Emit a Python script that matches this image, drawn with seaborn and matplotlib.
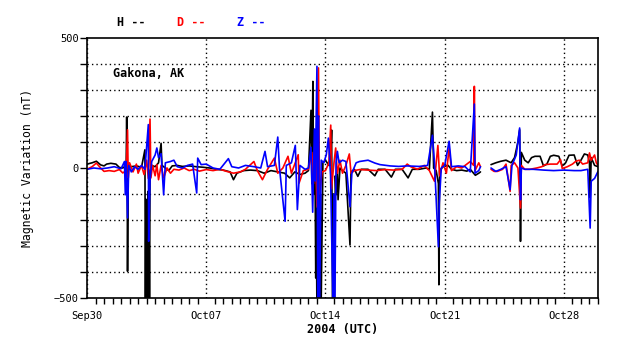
import numpy as np
import pandas as pd
import matplotlib
matplotlib.use("Agg")
import matplotlib.pyplot as plt
from matplotlib.ticker import MultipleLocator, FixedLocator
import seaborn as sns

# ---- data (days since 2004-09-30 00 UTC, nT) ----
h_days = [0.0, 0.3, 0.55, 0.8, 1.0, 1.15, 1.4, 1.7, 1.9, 2.1, 2.3, 2.33, 2.36, 2.38, 2.42, 2.6, 2.9, 3.2,
          3.4, 3.43, 3.46, 3.49, 3.52, 3.55, 3.58, 3.61, 3.64, 3.67, 3.7, 3.8, 4.0, 4.2, 4.35, 4.4, 4.6,
          4.8, 5.0, 5.3, 5.6, 6.0, 6.4,
          6.8, 7.2, 7.6, 8.0, 8.4, 8.6, 8.8, 9.2, 9.6, 10.0, 10.4, 10.8, 11.2, 11.6, 11.9, 12.2, 12.5, 12.8,
          13.0, 13.15, 13.2, 13.26, 13.3, 13.38, 13.43, 13.46, 13.5, 13.54, 13.58, 13.62, 13.66, 13.7,
          13.74, 13.85, 14.0,
          14.2, 14.3, 14.36, 14.42, 14.47, 14.52, 14.58, 14.62, 14.7, 14.74, 14.85, 15.0, 15.2, 15.44,
          15.5, 15.7, 15.9, 16.1, 16.5, 16.9, 17.1, 17.5, 17.87, 18.1, 18.5, 18.85, 19.1, 19.5, 19.9,
          20.1, 20.28, 20.35, 20.5, 20.63, 20.66, 20.7, 20.9, 21.2, 21.4, 21.7, 22.0, 22.3, 22.5, 22.8,
          23.0, 23.1,
          23.72, 24.0, 24.3, 24.6, 24.9, 25.1, 25.3, 25.4, 25.45, 25.5, 25.7, 25.9, 26.1, 26.3, 26.6,
          26.8, 27.0, 27.2, 27.4, 27.7, 27.9, 28.1, 28.3, 28.6, 28.8, 29.0, 29.2, 29.4, 29.5, 29.54,
          29.6, 29.8, 30.0]
h_vals = [15, 20, 26, 12, 8, 15, 18, 15, 2, 0, 10, 196, -20, -397, 5, 5, 8, 3,
          70, -560, -120, -560, -200, -560, -90, -560, -150, -560, -10, 10, 5, 20, 95, 10, 0,
          -10, 8, 10, 6, 8, 5,
          3, 0, -5, -8, -15, -45, -20, -10, -8, -10, -20, -10, -15, -20, -38, -15, -25, -20,
          -10, 222, -60, 333, -100, 60, -423, -150, -560, -80, -560, -200, -560, -100,
          -560, 20, 30,
          10, 10, 146, -560, -100, -560, -30, -103, -10, -122, 0, -10, -20, -296,
          -15, -5, -32, -5, -5, -30, -5, -5, -35, -5, -5, -38, -5, -5, 0,
          -5, 215, 0, -10, -60, -449, -10, 5, 10, -5, -10, -8, -12, -5, -28,
          -20, -15,
          13, 20, 26, 30, 20, 40, 100, 147, -282, 60, 30, 20, 40, 45, 45,
          8, 15, 45, 49, 45, 8, 20, 49, 50, 10, 30, 54, 50, 20, -115,
          40, 10, 5]

d_days = [0.0, 0.3, 0.55, 0.8, 1.0, 1.3, 1.6, 1.9, 2.1, 2.3, 2.38, 2.42, 2.5, 2.7, 2.9, 3.0, 3.2, 3.35,
          3.5, 3.6, 3.7, 3.75, 3.85, 4.0, 4.1, 4.2, 4.35, 4.5, 4.7, 4.9, 5.1, 5.4, 5.7, 6.0, 6.3, 6.6,
          7.0, 7.4, 7.8, 8.2, 8.6, 9.0, 9.3, 9.8, 10.0, 10.3, 10.6, 11.0, 11.2, 11.5, 11.8, 12.0, 12.4,
          12.45, 12.7, 13.0, 13.2, 13.3, 13.4, 13.5, 13.59, 13.65, 13.8, 14.0, 14.2, 14.31, 14.35, 14.5,
          14.6, 14.7, 14.85, 15.0, 15.2, 15.4, 15.5, 15.7, 16.0, 16.5, 17.0, 17.5, 18.0, 18.5, 18.8,
          19.0, 19.4, 19.8, 20.1, 20.4, 20.6, 20.7, 20.9, 21.1, 21.26, 21.4, 21.7, 22.0, 22.3, 22.5,
          22.7, 22.74, 22.78, 23.0, 23.1,
          23.72, 23.9, 24.1, 24.4, 24.6, 24.84, 24.9, 25.1, 25.3, 25.45, 25.5, 25.7, 26.0, 26.4, 26.7,
          26.9, 27.2, 27.6, 27.8, 27.9, 28.2, 28.5, 28.7, 28.9, 29.1, 29.4, 29.5, 29.6, 29.8, 29.9, 30.0]
d_vals = [-5, 5, 19, 0, -13, -10, -13, -6, -19, -10, 147, -38, 20, -15, 15, -20, 10, -25,
          30, -40, 188, -38, 10, -30, 13, -45, 10, -38, 0, -20, -5, -8, 0, -10, -5, -12,
          -6, -10, -5, -13, -20, -15, -5, 25, -10, -45, -5, 38, -20, 0, 45, -20, 51,
          -58, -10, -5, 60, -60, 120, -150, 385, -100, -15, -10, 20, 165, -80, 20,
          77, -20, 30, -20, 10, 54, -20, -10, -6, -8, -10, -6, -8, -5, 15,
          5, -5, 10, -10, -51, 87, -30, 20, -20, 77, -10, 5, 0, 15, 25,
          10, 314, -10, 20, 5,
          -5, -13, -13, -5, 15, -90, 10, 20, 0, -154, 10, -5, -5, 0, 5,
          13, 15, 15, 32, -2, 5, 15, 26, 30, 15, 20, 58, 30, 50, 20, 10]

z_days = [0.0, 0.4, 0.8, 1.2, 1.6, 2.0, 2.2, 2.25, 2.3, 2.38, 2.45, 2.6, 2.8, 3.0, 3.2, 3.4, 3.6, 3.62,
          3.7, 3.8, 4.0, 4.1, 4.2, 4.35, 4.5, 4.6, 4.9, 5.1, 5.3, 5.6, 5.9, 6.2, 6.44, 6.5, 6.7, 7.0,
          7.4, 7.8, 8.3, 8.5, 8.9, 9.3, 9.8, 10.2, 10.45, 10.6, 11.0, 11.2, 11.3, 11.63, 11.7, 12.0,
          12.23, 12.35, 12.5, 12.8, 13.0, 13.15, 13.25, 13.35, 13.4, 13.5, 13.55, 13.6, 13.65, 13.75,
          13.9, 14.05, 14.17, 14.3, 14.45, 14.5, 14.55, 14.62, 14.7, 14.8, 15.0, 15.2, 15.44, 15.55,
          15.8, 16.0, 16.5, 16.9, 17.2, 17.8, 18.3, 18.8, 19.5, 20.0, 20.28, 20.4, 20.63, 20.68, 20.8,
          21.0, 21.26, 21.4, 21.8, 22.2, 22.5, 22.74, 22.78, 23.0, 23.1,
          23.72, 24.0, 24.3, 24.6, 24.84, 24.95, 25.2, 25.4, 25.45, 25.5, 25.7, 26.2, 26.8, 27.4, 28.0,
          28.6, 29.0, 29.4, 29.54, 29.6, 29.8, 30.0]
z_vals = [-5, 0, -3, 0, 5, -3, 25, -103, 25, -192, 10, -15, 5, -5, 10, -5, 167, -282,
          -50, 25, 50, 77, 40, 55, -103, 20, 25, 30, 5, 0, 10, 15, -96, 38, 13, 15,
          0, -5, 36, 5, 0, 10, 5, 0, 64, 5, 10, 119, 0, -205, 10, 20,
          87, -160, 10, -5, 0, 80, -170, 150, -50, 391, -560, 200, -560, 30,
          20, 51, 115, -30, -560, -100, -560, 20, 64, 20, 30, 25, -149, -20,
          20, 25, 30, 19, 13, 8, 6, 8, 6, 10, 126, 20, -303, -135, 0,
          10, 103, 5, 8, 5, -15, 246, -20, -10, 5,
          0, -13, -5, 5, -83, 10, 50, 154, -122, 0, -5, -5, -8, -10, -8,
          -10, -10, -5, -231, -51, -40, -13]

week_labels = ["Sep30", "Oct07", "Oct14", "Oct21", "Oct28"]
data_gap_start = 23.4  # no data between Oct 23 and Oct 24


def frame(days, vals):
    df = pd.DataFrame({"day": days, "nT": vals})
    df["seg"] = (df["day"] > data_gap_start).astype(int)
    return df


sns.set_theme(style="white")
plt.rcParams["font.family"] = ["DejaVu Sans Mono", "DejaVu Sans"]

fig = plt.figure(figsize=(6.38, 3.59), dpi=100)
ax = fig.add_axes([87 / 638, 1 - 298 / 359, 511 / 638, 260 / 359])

for days, vals, col in [(h_days, h_vals, "black"), (d_days, d_vals, "#ff0000"), (z_days, z_vals, "#0000ff")]:
    sns.lineplot(data=frame(days, vals), x="day", y="nT", units="seg", estimator=None,
                 sort=False, color=col, lw=1.2, ax=ax, legend=False)

ax.set_xlim(0, 30)
ax.set_ylim(-500, 500)
ax.xaxis.set_major_locator(FixedLocator([0, 7, 14, 21, 28]))
ax.set_xticklabels(week_labels)
ax.xaxis.set_minor_locator(MultipleLocator(0.5))
ax.yaxis.set_major_locator(FixedLocator([-500, 0, 500]))
ax.yaxis.set_minor_locator(MultipleLocator(100))

dots = (0, (1, 2.2))
ax.grid(False)
ax.grid(which="major", axis="x", color="black", linestyle=dots, lw=1)
ax.grid(which="minor", axis="y", color="black", linestyle=dots, lw=1)
ax.set_axisbelow(True)

for s in ax.spines.values():
    s.set_color("black")
    s.set_linewidth(1.2)

ax.tick_params(axis="x", which="major", length=7.5, width=1, color="black", labelsize=7.5, pad=2)
ax.tick_params(axis="x", which="minor", length=4.3, width=1, color="black", bottom=True)
ax.tick_params(axis="y", which="both", length=5, width=1, color="black", left=True, labelsize=7.5, pad=1)
for lab in ax.get_xticklabels() + ax.get_yticklabels():
    lab.set_color("black")

ax.set_xlabel("2004 (UTC)", fontsize=8.5, fontweight="bold", color="black", labelpad=1)
ax.set_ylabel("Magnetic Variation (nT)", fontsize=8.3, color="black", labelpad=14)

ax.text(0.05, 0.865, "Gakona, AK", transform=ax.transAxes, fontsize=8.5, fontweight="bold",
        color="black", va="center", ha="left")

for xp, lab, col in [(117, "H --", "black"), (177, "D --", "#ff0000"), (237, "Z --", "#0000ff")]:
    fig.text(xp / 638, 1 - 23 / 359, lab, fontsize=8.5, fontweight="bold", color=col,
             va="center", ha="left")

fig.savefig("out.png", dpi=100)
